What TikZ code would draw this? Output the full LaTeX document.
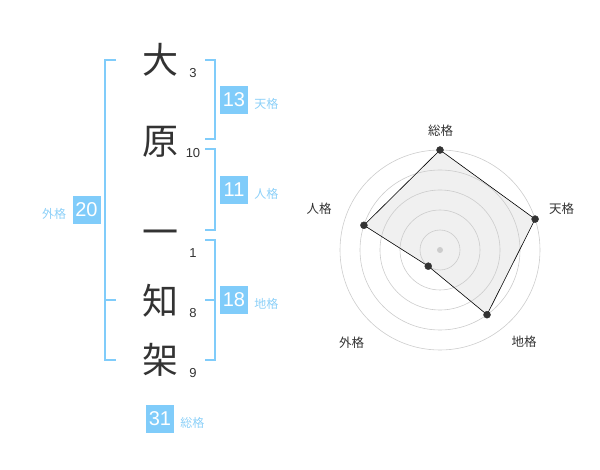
\documentclass[tikz,border=0pt]{standalone}
\usepackage{fontspec}
\usetikzlibrary{positioning}
\setmainfont{Liberation Sans}
\newfontfamily\jp{Noto Sans CJK JP}
\definecolor{sky}{HTML}{80CCFA}
\definecolor{skytext}{HTML}{8CD0F8}
\definecolor{ink}{HTML}{333333}
\begin{document}
\begin{tikzpicture}[x=1pt,y=-1pt,
                bar/.style    = {sky,line width=2pt},
                kanji/.style  = {font=\jp\fontsize{36}{36}\selectfont,text=ink,inner sep=0pt},
                strokes/.style= {font=\fontsize{13}{13}\selectfont,text=ink,inner sep=0pt},
                numbox/.style = {fill=sky,text=white,font=\fontsize{20}{20}\selectfont,minimum size=28pt,inner sep=0pt},
                kaku/.style   = {font=\jp\fontsize{12}{12}\selectfont,text=skytext,inner sep=0pt,yshift=-3.5pt},
                ring/.style   = {draw=black!20,line width=0.6pt},
                axis/.style   = {font=\jp\fontsize{12.5}{12.5}\selectfont,text=ink,inner sep=0pt}]
                \useasboundingbox (0,0) rectangle (600,470);

                \node[kanji] (dai)  at (160,60)  {大};
                \node[kanji] (hara) at (160,142) {原};
                \node[kanji] (ichi) at (160,238) {一};
                \node[kanji] (chi)  at (160,301) {知};
                \node[kanji] (ka)   at (160,360) {架};

                \node[strokes] (n3)  at (193,73)  {3};
                \node[strokes] (n10) at (193,153) {10};
                \node[strokes] (n1)  at (193,253) {1};
                \node[strokes] (n8)  at (193,313) {8};
                \node[strokes] (n9)  at (193,373) {9};

                % brackets
                \draw[bar] (116,60) -- (105,60) -- (105,360) -- (116,360);
                \draw[bar] (105,300) -- (116,300);
                \draw[bar] (205,60) -- (215,60) -- (215,139) -- (205,139);
                \draw[bar] (205,149) -- (215,149) -- (215,230) -- (205,230);
                \draw[bar] (205,240) -- (215,240) -- (215,360) -- (205,360);
                \draw[bar] (205,300) -- (215,300);

                \node[numbox] (ten)  at (234,100)  {13};
                \node[kaku, right=6pt of ten] (tenl) {天格};
                \node[numbox] (jin)  at (234,190)  {11};
                \node[kaku, right=6pt of jin] (jinl) {人格};
                \node[numbox] (chik) at (234,300)  {18};
                \node[kaku, right=6pt of chik] (chil) {地格};
                \node[numbox] (gai)  at (86.5,210) {20};
                \node[kaku, left=6pt of gai] (gail) {外格};
                \node[numbox] (sou)  at (160,419)  {31};
                \node[kaku, right=6pt of sou] (soul) {総格};

                % radar
                \begin{scope}[shift={(440,250)}]
                \coordinate (psou) at (-90:100);
                \coordinate (pten) at (-18:100);
                \coordinate (pchi) at (54:80);
                \coordinate (pgai) at (126:20);
                \coordinate (pjin) at (198:80);
                \fill[black!6] (psou) -- (pten) -- (pchi) -- (pgai) -- (pjin) -- cycle;

                \foreach \r in {20,40,...,100}
                    \draw[ring] (0,0) circle (\r pt);
                \fill[black!20] (0,0) circle (3pt);

                \draw[black,line width=0.6pt]
                    (psou) -- (pten) -- (pchi) -- (pgai) -- (pjin) -- cycle;
                \foreach \p in {psou,pten,pchi,pgai,pjin}
                    \filldraw[ink] (\p) circle (3.5pt);

                \node[axis] (asou) at (0.7,-119)    {総格};
                \node[axis] (aten) at (121.7,-41.7) {天格};
                \node[axis] (achi) at (84,91.7)     {地格};
                \node[axis] (agai) at (-88.3,92.3)  {外格};
                \node[axis] (ajin) at (-121,-41.7)  {人格};
                \end{scope}
            \end{tikzpicture}
\end{document}
